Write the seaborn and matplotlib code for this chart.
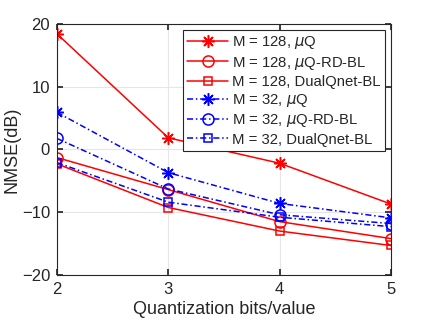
import seaborn as sns
import matplotlib.pyplot as plt
import pandas as pd

bits = [2, 3, 4, 5]
m128_uq = [18.4, 1.85, -2.2, -8.7]
m128_rd = [-1.3, -6.4, -11.5, -14.2]
m128_dq = [-2.3, -9.25, -13.0, -15.3]
m32_uq = [5.9, -3.7, -8.6, -10.9]
m32_rd = [1.75, -6.3, -10.4, -11.8]
m32_dq = [-2.1, -8.4, -10.8, -12.3]

labels = [r'M = 128, $\mu$Q', r'M = 128, $\mu$Q-RD-BL', 'M = 128, DualQnet-BL',
          r'M = 32, $\mu$Q', r'M = 32, $\mu$Q-RD-BL', 'M = 32, DualQnet-BL']
series = [m128_uq, m128_rd, m128_dq, m32_uq, m32_rd, m32_dq]
colours = ['red'] * 3 + ['blue'] * 3
styles = ['-'] * 3 + [(0, (4, 1.8, 1, 1.8))] * 3
markers = [(8, 2, 0), 'o', 's'] * 2
msizes = [9, 8, 6] * 2

sns.set_theme(style="whitegrid")
plt.rcParams['font.family'] = ['Liberation Sans', 'DejaVu Sans']
plt.rcParams['mathtext.fontset'] = 'dejavusans'

fig = plt.figure(figsize=(4.32, 3.27), dpi=100)
ax = fig.add_axes([0.132, 0.159, 0.773, 0.768])
for i in range(len(series)):
    df = pd.DataFrame({'bits': bits, 'nmse': series[i]})
    sns.lineplot(data=df, x='bits', y='nmse', ax=ax, color=colours[i], linestyle=styles[i],
                 marker=markers[i], markersize=msizes[i], markerfacecolor='none',
                 markeredgecolor=colours[i], markeredgewidth=1.1, linewidth=1.1,
                 label=labels[i])

ax.set_xlim(2, 5)
ax.set_ylim(-20, 20)
ax.set_xticks([2, 3, 4, 5])
ax.set_yticks([-20, -10, 0, 10, 20])
ax.set_xlabel('Quantization bits/value', fontsize=13, color='#262626', labelpad=3)
ax.set_ylabel('NMSE(dB)', fontsize=13, color='#262626', labelpad=1)
ax.tick_params(direction='in', length=4, labelsize=12, colors='#262626', pad=5,
               top=True, right=True, bottom=True, left=True, color='#262626')
ax.set_facecolor('white')
ax.grid(True, color='#e6e6e6', linewidth=0.8)
for s in ax.spines.values():
    s.set_visible(True)
    s.set_color('#262626')
    s.set_linewidth(0.8)

leg = ax.legend(loc='upper right', fontsize=10.7, frameon=True, fancybox=False,
                framealpha=1, edgecolor='#262626', borderpad=0.3, labelspacing=0.22,
                handlelength=2.7, handletextpad=0.3, borderaxespad=0.4)
leg.get_frame().set_linewidth(0.8)

fig.savefig('out.png', dpi=100)
